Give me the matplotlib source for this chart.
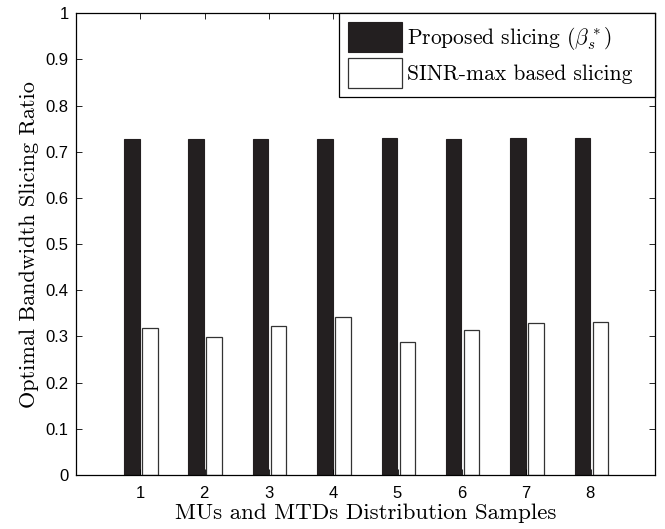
import matplotlib
matplotlib.use("Agg")
import matplotlib.pyplot as plt
import numpy as np

samples = [1, 2, 3, 4, 5, 6, 7, 8]
proposed = [0.728, 0.728, 0.728, 0.728, 0.729, 0.728, 0.729, 0.729]
sinr_max = [0.318, 0.298, 0.323, 0.343, 0.289, 0.313, 0.330, 0.332]

plt.rcParams["mathtext.fontset"] = "cm"
plt.rcParams["axes.formatter.use_mathtext"] = True

SERIF = ["cmr10", "DejaVu Serif"]
SANS = ["Liberation Sans", "DejaVu Sans"]

fig = plt.figure(figsize=(6.65, 5.29), dpi=100)
ax = fig.add_axes([0.114, 0.102, 0.871, 0.873])

x = np.array(samples, dtype=float)
width = 0.24
# trailing spaces give the wider right margin of the original legend box
ax.bar(x - 0.13, proposed, width, color="#231f20", edgecolor="#231f20",
       linewidth=0.8, label=r"Proposed slicing ($\beta_s^*$)  ")
ax.bar(x + 0.15, sinr_max, width, color="white", edgecolor="#333333",
       linewidth=0.9, label="SINR-max based slicing  ")

ax.set_xlim(0, 9)
ax.set_ylim(0, 1)
ax.set_xticks(samples)
ax.set_yticks(np.arange(0, 1.01, 0.1))
ax.set_yticklabels(["0"] + [f"{v:.1f}" for v in np.arange(0.1, 0.95, 0.1)] + ["1"])
ax.tick_params(direction="in", top=True, right=True, length=4, width=0.6,
               labelsize=12)
ax.tick_params(axis="x", pad=7)
ax.tick_params(axis="y", pad=5)
for lab in ax.get_xticklabels() + ax.get_yticklabels():
    lab.set_family(SANS)
for s in ax.spines.values():
    s.set_linewidth(0.9)

ax.set_xlabel("MUs and MTDs Distribution Samples", family=SERIF, fontsize=16.5,
              labelpad=2)
ax.set_ylabel("Optimal Bandwidth Slicing Ratio", family=SERIF, fontsize=16,
              labelpad=5)

leg = ax.legend(loc="upper right", fancybox=False, framealpha=1,
                edgecolor="black", borderaxespad=0, handlelength=2.55,
                handleheight=1.75, handletextpad=0.2, labelspacing=0.3,
                borderpad=0.4, prop={"family": SERIF, "size": 15.5})
leg.get_frame().set_linewidth(0.9)

fig.savefig("out.png", dpi=100)
